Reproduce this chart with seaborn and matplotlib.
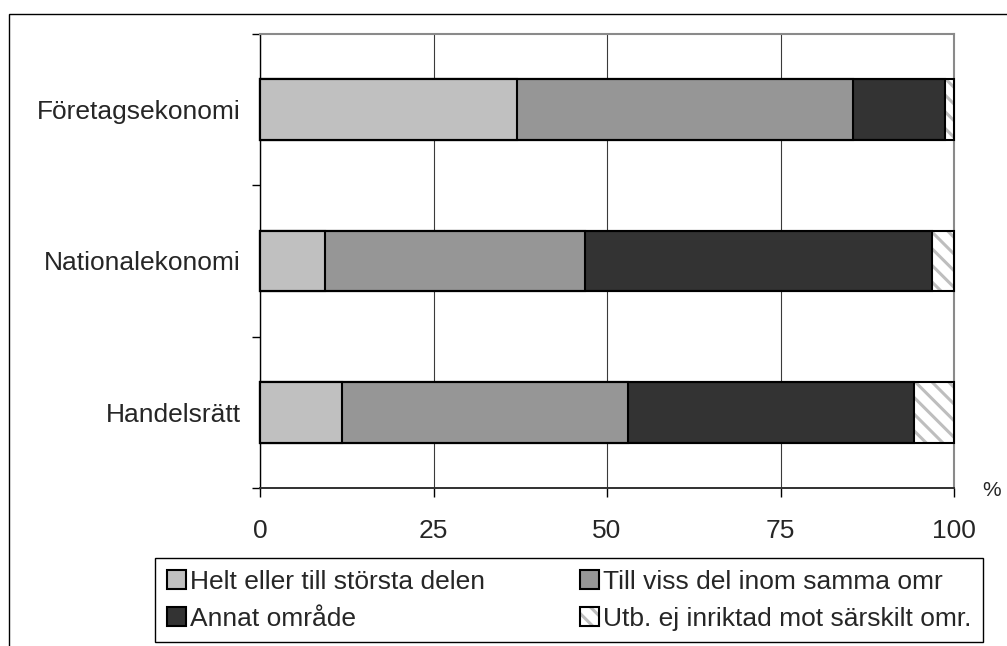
import numpy as np
import pandas as pd
import matplotlib
matplotlib.use("Agg")
import matplotlib.pyplot as plt
from matplotlib.patches import Patch, Rectangle
import seaborn as sns

# data (percent)
categories = ["Företagsekonomi", "Nationalekonomi", "Handelsrätt"]
helt = [37.0, 9.3, 11.8]
viss = [48.4, 37.5, 41.2]
annat = [13.3, 50.0, 41.3]
utb = [1.3, 3.2, 5.7]
series_labels = ["Helt eller till största delen", "Till viss del inom samma omr",
                 "Annat område", "Utb. ej inriktad mot särskilt omr."]
xticks = [0, 25, 50, 75, 100]

colors = ["#C0C0C0", "#969696", "#333333", "white"]
hatch_color = "#BEBEBE"

sns.set_style("white")
plt.rcParams["font.family"] = ["Liberation Sans", "DejaVu Sans"]
plt.rcParams["hatch.linewidth"] = 2.2

df = pd.DataFrame({"cat": categories, "helt": helt, "viss": viss,
                   "annat": annat, "utb": utb})
df["c1"] = df["helt"]
df["c2"] = df["c1"] + df["viss"]
df["c3"] = df["c2"] + df["annat"]
df["c4"] = df["c3"] + df["utb"]

fig = plt.figure(figsize=(10.07, 6.46), dpi=100)
ax = fig.add_axes([260 / 1007, 1 - 488 / 646, (954 - 260) / 1007, (488 - 34) / 646])

bar_kw = dict(orient="h", width=0.4, ax=ax, zorder=3, clip_on=False)

# hatched layer (full length), then cumulative layers on top
sns.barplot(data=df, x="c4", y="cat", color="white", edgecolor=hatch_color,
            linewidth=0, hatch="\\\\", **bar_kw)
sns.barplot(data=df, x="c3", y="cat", color=colors[2], edgecolor="black",
            linewidth=1.5, **bar_kw)
sns.barplot(data=df, x="c2", y="cat", color=colors[1], edgecolor="black",
            linewidth=1.5, **bar_kw)
sns.barplot(data=df, x="c1", y="cat", color=colors[0], edgecolor="black",
            linewidth=1.5, **bar_kw)
# outline of the whole bar
sns.barplot(data=df, x="c4", y="cat", color="black", facecolor="none",
            edgecolor="black", linewidth=1.5, **bar_kw)

ax.set_xlim(0, 100)
ax.set_ylim(len(categories) - 0.5, -0.5)
ax.set_xlabel("")
ax.set_ylabel("")

ax.set_xticks(xticks)
ax.set_xticklabels([str(t) for t in xticks])
ax.tick_params(axis="x", bottom=True, direction="out", length=6.5, width=1,
               color="black", labelsize=19, pad=16)
ax.set_yticks(range(len(categories)))
ax.set_yticklabels(categories)
ax.tick_params(axis="y", which="major", left=True, length=0, pad=14,
               labelsize=19)
ax.set_yticks(np.arange(-0.5, len(categories)), minor=True)
ax.tick_params(axis="y", which="minor", left=True, direction="out", length=6,
               width=1, color="black")

ax.xaxis.grid(True, color="#3A3A3A", linewidth=0.8)
ax.yaxis.grid(False)
ax.set_axisbelow(True)

ax.spines["left"].set_color("black")
ax.spines["left"].set_linewidth(1)
ax.spines["bottom"].set_color("#303030")
ax.spines["bottom"].set_linewidth(1.4)
for s in ["top", "right"]:
    ax.spines[s].set_color("#8A8A8A")
    ax.spines[s].set_linewidth(1.5)

fig.text(992 / 1007, 1 - 490 / 646, "%", ha="center", va="center", fontsize=15)

# legend
handles = [
    Patch(facecolor=colors[0], edgecolor="black", linewidth=1.5),
    Patch(facecolor=colors[2], edgecolor="black", linewidth=1.5),
    Patch(facecolor=colors[1], edgecolor="black", linewidth=1.5),
    (Patch(facecolor="white", edgecolor=hatch_color, linewidth=0, hatch="\\\\"),
     Patch(facecolor="none", edgecolor="black", linewidth=1.5)),
]
labels = [series_labels[0], series_labels[2], series_labels[1], series_labels[3]]
leg = fig.legend(handles, labels, loc="upper left",
                 bbox_to_anchor=(155 / 1007, 1 - 558 / 646), ncol=2,
                 frameon=True, fancybox=False, edgecolor="black", framealpha=1,
                 fontsize=19, handlelength=0.72, handleheight=0.72,
                 handletextpad=0.15, columnspacing=3.6, borderpad=0.45,
                 labelspacing=0.48, borderaxespad=0)
leg.get_frame().set_linewidth(1)

# outer chart frame (cut off at right and bottom)
fig.add_artist(Rectangle((9 / 1007, -0.2), 1.2, 1 - 14 / 646 + 0.2,
                         transform=fig.transFigure, fill=False,
                         edgecolor="black", linewidth=1))

fig.savefig("out.png", dpi=100)
